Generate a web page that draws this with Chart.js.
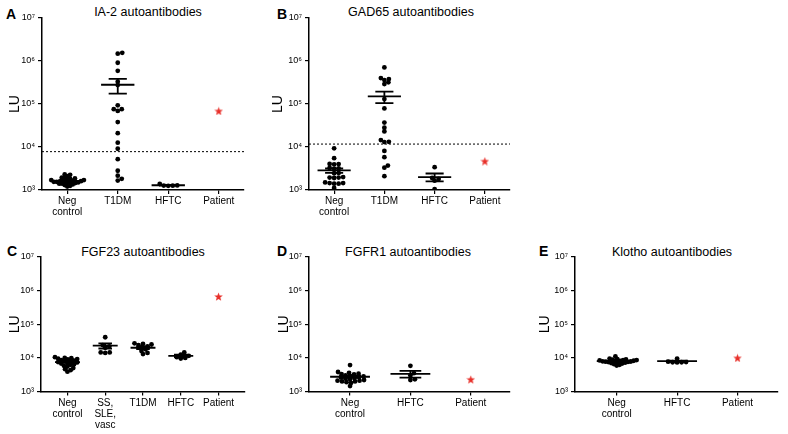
<!DOCTYPE html>
<html>
<head>
<meta charset="utf-8">
<script src="https://cdn.jsdelivr.net/npm/chart.js@4.4.1/dist/chart.umd.min.js"></script>
<style>
  body { margin: 0; background: #fff; font-family: "Liberation Sans", Arial, sans-serif; color: #000; }
  #fig { position: relative; width: 788px; height: 434px; overflow: hidden; }
  .panel { position: absolute; }
  .letter { position: absolute; font-weight: bold; font-size: 14px; line-height: 14px; }
  .title { position: absolute; font-size: 12.5px; line-height: 12.5px; transform: translateX(-50%); white-space: nowrap; }
</style>
</head>
<body>
<div id="fig">
  <!-- panel letters and titles -->
  <div class="letter" style="left:6px;top:7px">A</div>
  <div class="title" style="left:148px;top:6px">IA-2 autoantibodies</div>
  <div class="letter" style="left:277px;top:7px">B</div>
  <div class="title" style="left:411px;top:6px">GAD65 autoantibodies</div>
  <div class="letter" style="left:7px;top:244px">C</div>
  <div class="title" style="left:143px;top:246px">FGF23 autoantibodies</div>
  <div class="letter" style="left:277px;top:244px">D</div>
  <div class="title" style="left:408px;top:246px">FGFR1 autoantibodies</div>
  <div class="letter" style="left:539px;top:244px">E</div>
  <div class="title" style="left:672px;top:246px">Klotho autoantibodies</div>

  <div class="panel" style="left:0px;top:0px;width:250px;height:230px"><canvas id="chart-a"></canvas></div>
  <div class="panel" style="left:267px;top:0px;width:249px;height:230px"><canvas id="chart-b"></canvas></div>
  <div class="panel" style="left:1px;top:230px;width:250px;height:204px"><canvas id="chart-c"></canvas></div>
  <div class="panel" style="left:267px;top:230px;width:249px;height:204px"><canvas id="chart-d"></canvas></div>
  <div class="panel" style="left:533px;top:230px;width:251px;height:204px"><canvas id="chart-e"></canvas></div>
</div>

<script>
    Chart.defaults.font.family = '"Liberation Sans", Arial, sans-serif';
    Chart.defaults.color = '#000';

    const yTicks = [1e3, 1e4, 1e5, 1e6, 1e7];
    const yTickLabels = ['10³', '10⁴', '10⁵', '10⁶', '10⁷'];

    // A - IA-2
    const aCategories = [['Neg', 'control'], 'T1DM', 'HFTC', 'Patient'];
    const aNeg = [2300, 2250, 2100, 1950, 1900, 1850, 1800, 1750, 1700, 1700, 1650, 1650, 1600,
                  1600, 1550, 1550, 1500, 1500, 1450, 1450, 1400, 1400, 1350, 1300, 1250, 1200];
    const aT1dm = [1.48e6, 1.55e6, 9.1e5, 5.9e5, 3.3e5, 2.75e5, 7.6e4, 6.9e4, 7.6e4, 9.3e4,
                   3.8e4, 2.1e4, 1.26e4, 9.1e3, 5.2e3, 2.8e3, 2.15e3, 1.66e3, 1.82e3];
    const aHftc = [1380, 1280, 1260, 1270, 1250];
    const aPatient = 6.9e4;
    const aMeans = [1630, 2.8e5, 1290];
    const aSems = [55, 1.05e5, 25];
    const aCutoff = 7.8e3;

    // B - GAD65
    const bCategories = [['Neg', 'control'], 'T1DM', 'HFTC', 'Patient'];
    const bNeg = [9300, 5500, 4000, 3950, 4050, 3200, 3150, 3250, 2450, 2500,
                  1950, 1900, 2000, 1950, 1450, 1400, 1450, 1500, 1400, 1120];
    const bT1dm = [7.1e5, 3.8e5, 4.0e5, 3.6e5, 3.2e5, 2.9e5, 1.3e5, 7.9e4, 3.7e4, 2.8e4,
                   2.3e4, 1.45e4, 1.3e4, 1.32e4, 8.1e3, 5.8e3, 3.7e3, 3.3e3, 2.1e3];
    const bHftc = [3400, 1900, 1800, 1650, 1050];
    const bPatient = 4.7e3;
    const bMeans = [2850, 1.5e5, 2000];
    const bSems = [350, 4.5e4, 420];
    const bCutoff = 1.17e4;

    // C - FGF23
    const cCategories = [['Neg', 'control'], ['SS,', 'SLE,', 'vasc'], 'T1DM', 'HFTC', 'Patient'];
    const cNeg = [10500, 10000, 9800, 9500, 9200, 9000, 8500, 8200, 8000, 7800, 7500,
                  7300, 7000, 6800, 6500, 6200, 5800, 5500, 5000, 4600, 4300, 3900];
    const cSle = [41000, 24000, 22000, 20000, 14500, 14000, 14500];
    const cT1dm = [27000, 26000, 25000, 24000, 22000, 21000, 18000, 16000, 14000, 13000];
    const cHftc = [14500, 12500, 11500, 10000, 9500, 10500];
    const cPatient = 6.7e5;
    const cMeans = [7500, 23000, 20000, 11500];
    const cSems = [400, 4000, 1800, 900];

    // D - FGFR1
    const dCategories = [['Neg', 'control'], 'HFTC', 'Patient'];
    const dNeg = [6100, 3800, 3600, 3400, 3300, 3200, 3000, 2900, 2800, 2700, 2600,
                  2500, 2400, 2300, 2200, 2100, 2100, 2000, 2000, 1900, 1800, 1450];
    const dHftc = [5800, 3500, 3000, 2300, 2200];
    const dPatient = 2.3e3;
    const dMeans = [2750, 3350];
    const dSems = [220, 750];

    // E - Klotho
    const eCategories = [['Neg', 'control'], 'HFTC', 'Patient'];
    const eNeg = [11000, 9500, 9200, 9000, 8800, 8600, 8500, 8400, 8200, 8100, 8000, 7900,
                  7800, 7700, 7600, 7500, 7300, 7200, 7000, 6800, 6500, 6200, 5900];
    const eHftc = [9500, 7700, 7500, 7400, 7400, 7300];
    const ePatient = 1.0e4;
    const eMeans = [8000, 8000];
    const eSems = [200, 300];

    const panels = [
        {id: 'chart-a', cats: aCategories, groups: [aNeg, aT1dm, aHftc], means: aMeans, sems: aSems,
         patient: aPatient, cutoff: aCutoff, xMin: 0.5, xMax: 4.5, yWidth: 42, xHeight: 40, padTop: 18, padRight: 6, luPad: 6.6},
        {id: 'chart-b', cats: bCategories, groups: [bNeg, bT1dm, bHftc], means: bMeans, sems: bSems,
         patient: bPatient, cutoff: bCutoff, xMin: 0.5, xMax: 4.5, yWidth: 42, xHeight: 40, padTop: 18, padRight: 6, luPad: 2.6},
        {id: 'chart-c', cats: cCategories, groups: [cNeg, cSle, cT1dm, cHftc], means: cMeans, sems: cSems,
         patient: cPatient, cutoff: null, xMin: 0.3, xMax: 5.7, yWidth: 40, xHeight: 42.5, padTop: 27, padRight: 6, luPad: 6.1},
        {id: 'chart-d', cats: dCategories, groups: [dNeg, dHftc], means: dMeans, sems: dSems,
         patient: dPatient, cutoff: null, xMin: 0.32, xMax: 3.65, yWidth: 42, xHeight: 42.5, padTop: 27, padRight: 6, luPad: 9.1},
        {id: 'chart-e', cats: eCategories, groups: [eNeg, eHftc], means: eMeans, sems: eSems,
         patient: ePatient, cutoff: null, xMin: 0.31, xMax: 3.67, yWidth: 42, xHeight: 42.5, padTop: 27, padRight: 6, luPad: 4.1}
    ];

    // beeswarm in pixel space: sx / sy are the horizontal / vertical spacing between dots,
    // offsets are squeezed to stay within +-maxHalf pixels
    function swarm(vals, pxDecade, sx, sy, maxHalf) {
        const order = vals.map((v, i) => i).sort((a, b) => vals[a] - vals[b]);
        const placed = [];
        const off = [];
        order.forEach(i => {
            const y = Math.log10(vals[i]) * pxDecade;
            let x = 0;
            for (let k = 0; k < 400; k++) {
                const cand = k === 0 ? 0 : (k % 2 ? 1 : -1) * Math.ceil(k / 2) * 0.5;
                if (placed.every(p => ((p.x - cand) / sx) ** 2 + ((p.y - y) / sy) ** 2 >= 1)) {
                    x = cand;
                    break;
                }
            }
            placed.push({x, y});
            off[i] = x;
        });
        const widest = Math.max(...off.map(Math.abs));
        const k = widest > maxHalf ? maxHalf / widest : 1;
        return off.map(o => o * k);
    }

    function makeStar(size, color) {
        const c = document.createElement('canvas');
        c.width = size;
        c.height = size;
        const g = c.getContext('2d');
        const r1 = size / 2, r2 = r1 * 0.42;
        g.beginPath();
        for (let i = 0; i < 10; i++) {
            const r = i % 2 ? r2 : r1;
            const a = -Math.PI / 2 + i * Math.PI / 5;
            g.lineTo(r1 + r * Math.cos(a), r1 + r * Math.sin(a) + 0.5);
        }
        g.closePath();
        g.fillStyle = color;
        g.fill();
        return c;
    }

    const star = makeStar(9, '#e8302a');

    function buildChart(p) {
        const canvas = document.getElementById(p.id);
        const box = canvas.parentNode;
        const plotW = box.clientWidth - p.yWidth - p.padRight;
        const plotH = box.clientHeight - p.padTop - p.xHeight;
        const pxUnit = plotW / (p.xMax - p.xMin);
        const pxDecade = plotH / 4;

        const datasets = [];
        const bars = [];
        p.groups.forEach((vals, g) => {
            const c = g + 1;
            const off = swarm(vals, pxDecade, 4.4, 3.2, 0.33 * pxUnit);
            datasets.push({
                data: vals.map((v, j) => ({x: c + off[j] / pxUnit, y: v})),
                pointRadius: 2.4,
                pointBackgroundColor: '#000',
                pointBorderWidth: 0,
                order: 3
            });
            const m = p.means[g], s = p.sems[g];
            bars.push(
                {x: c - 0.33, y: m}, {x: c + 0.33, y: m}, {x: c, y: null},
                {x: c - 0.18, y: m + s}, {x: c + 0.18, y: m + s}, {x: c, y: null},
                {x: c - 0.18, y: m - s}, {x: c + 0.18, y: m - s}, {x: c, y: null},
                {x: c, y: m - s}, {x: c, y: m + s}, {x: c, y: null}
            );
        });
        datasets.push({data: bars, showLine: true, pointRadius: 0, borderColor: '#000', borderWidth: 1.8, order: 1});
        if (p.cutoff) {
            datasets.push({
                data: [{x: p.xMin, y: p.cutoff}, {x: p.xMax, y: p.cutoff}],
                showLine: true, pointRadius: 0, borderColor: '#000', borderWidth: 1, borderDash: [2, 2], order: 2
            });
        }
        datasets.push({data: [{x: p.cats.length, y: p.patient}], pointStyle: star, pointRadius: 4, order: 0});

        const axisGrid = {drawOnChartArea: false, drawTicks: true, tickLength: 4, color: '#000', lineWidth: 1.2};
        const axisBorder = {color: '#000', width: 1.5};

        new Chart(canvas.getContext('2d'), {
            type: 'scatter',
            data: {datasets},
            options: {
                responsive: true,
                maintainAspectRatio: false,
                animation: false,
                layout: {padding: {top: p.padTop, right: p.padRight, left: 0, bottom: 0}},
                plugins: {legend: {display: false}, tooltip: {enabled: false}},
                scales: {
                    x: {
                        type: 'linear', min: p.xMin, max: p.xMax,
                        afterBuildTicks: s => { s.ticks = p.cats.map((_, i) => ({value: i + 1})); },
                        afterFit: s => { s.height = p.xHeight; },
                        ticks: {autoSkip: false, maxRotation: 0, padding: 2, color: '#000',
                                font: {size: 10, lineHeight: 1.1}, callback: (v, i) => p.cats[i]},
                        grid: axisGrid,
                        border: axisBorder
                    },
                    y: {
                        type: 'logarithmic', min: 1e3, max: 1e7,
                        afterBuildTicks: s => { s.ticks = yTicks.map(v => ({value: v})); },
                        afterFit: s => { s.width = p.yWidth; },
                        ticks: {autoSkip: false, padding: 3, color: '#000', font: {size: 9},
                                callback: (v, i) => yTickLabels[i]},
                        grid: axisGrid,
                        border: axisBorder,
                        title: {display: true, text: 'LU', color: '#000', font: {size: 14},
                                padding: {top: p.luPad, bottom: 0}}
                    }
                }
            }
        });
    }

    panels.forEach(buildChart);
</script>
</body>
</html>
